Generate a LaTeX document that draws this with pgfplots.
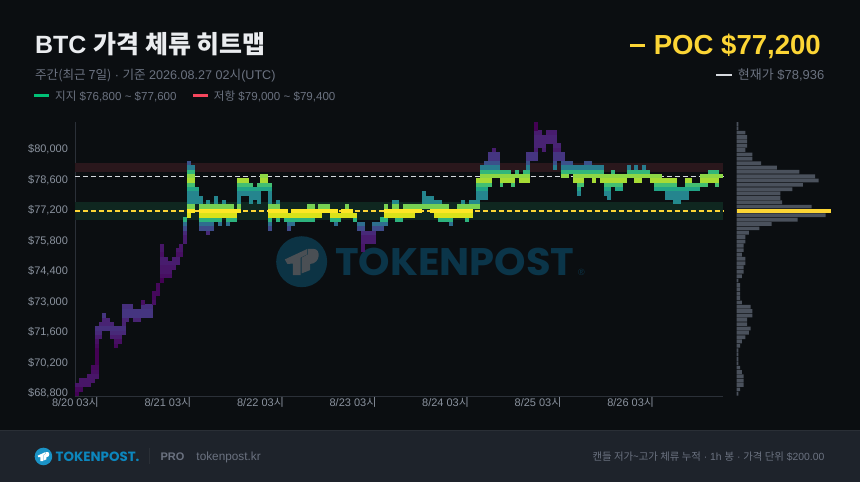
\documentclass[border=0pt]{standalone}
\usepackage{fontspec}
\usepackage{pgfplots}
\usepackage{pgfplotstable}
\pgfplotsset{compat=1.18}
\setmainfont{Liberation Sans}
\newfontfamily\kr{Noto Sans CJK KR}
\newfontfamily\pop{Poppins}
\newcommand\fs[1]{\fontsize{#1}{#1}\selectfont}
\definecolor{bg}{HTML}{0B0E11}
\definecolor{foot}{HTML}{1E232B}
\definecolor{footline}{HTML}{2A2F36}
\definecolor{title}{HTML}{EAECEF}
\definecolor{muted}{HTML}{6B7280}
\definecolor{tick}{HTML}{8A929E}
\definecolor{axisline}{HTML}{2B3038}
\definecolor{poc}{HTML}{FCD535}
\definecolor{cur}{HTML}{D6D9DE}
\definecolor{sup}{HTML}{00C076}
\definecolor{res}{HTML}{F6465D}
\definecolor{supband}{HTML}{0F2720}
\definecolor{resband}{HTML}{2A171C}
\definecolor{wmcircle}{HTML}{0C3344}
\definecolor{wmtext}{HTML}{0B3549}
\definecolor{wmlogo}{HTML}{4A4F54}
\definecolor{tpblue}{HTML}{0C86BD}
\definecolor{tpcirc}{HTML}{1B93C6}
\definecolor{prof}{HTML}{4A515C}

% Volume profile: time spent at each $200 price level (candle count)
\pgfplotstableread{
price count
81200 1
81000 1
80800 5
80600 6
80400 6
80200 6
80000 5
79800 9
79600 9
79400 14
79200 23
79000 36
78800 45
78600 47
78400 38
78200 32
78000 25
77800 25
77600 26
77400 43
77200 54
77000 51
76800 35
76600 20
76400 13
76200 7
76000 5
75800 5
75600 4
75400 4
75200 3
75000 5
74800 5
74600 4
74400 4
74200 3
74000 1
73800 2
73600 2
73400 2
73200 2
73000 3
72800 8
72600 9
72400 9
72200 6
72000 6
71800 8
71600 7
71400 5
71200 3
71000 2
70800 1
70600 1
70400 1
70200 1
70000 2
69800 3
69600 4
69400 4
69200 4
69000 2
68800 1
}\profile

% Hourly candles: hour index, low, high
\pgfplotstableread{
h low high
0 68800 69200
1 69000 69400
2 69200 69400
3 69200 69600
4 69400 70000
5 69600 71800
6 71400 72000
7 71800 72400
8 71800 72200
9 71400 72000
10 71000 71800
11 71200 71800
12 71600 72800
13 72200 72800
14 72400 72800
15 72200 72600
16 72200 72600
17 72400 73000
18 72400 72800
19 72400 72800
20 73000 73400
21 73400 73800
22 74000 75600
23 74200 75000
24 74200 74800
25 74600 75000
26 74800 75400
27 75200 75600
28 75800 76800
29 77000 79400
30 77200 79200
31 77600 78200
32 76400 77800
33 76400 77400
34 76200 77600
35 76400 77400
36 76800 77800
37 76600 77400
38 77000 77600
39 76600 77400
40 76800 77400
41 76800 77200
42 77200 78600
43 78000 78600
44 78000 78600
45 77600 78400
46 77800 78200
47 77600 78400
48 78200 78800
49 78200 78800
50 76400 78400
51 77000 77400
52 76800 77600
53 77000 77200
54 76800 77200
55 76400 77000
56 76600 77200
57 76800 77200
58 76800 77200
59 76800 77200
60 76800 77400
61 76800 77400
62 77000 77200
63 77000 77400
64 77200 77400
65 77200 77400
66 76800 77200
67 76600 77200
68 76800 77000
69 77000 77200
70 77000 77400
71 77000 77200
72 76800 77000
73 76400 76600
74 75400 76600
75 75800 76200
76 75800 76200
77 75800 76600
78 76400 76600
79 76400 76800
80 76600 77400
81 77000 77200
82 77000 77600
83 76800 77600
84 76800 77200
85 77000 77400
86 77000 77400
87 77000 77400
88 77200 77400
89 77200 77400
90 77400 78000
91 77400 77800
92 77200 77800
93 77000 77600
94 76800 77600
95 76800 77400
96 76800 77400
97 76600 77200
98 77000 77200
99 77000 77400
100 77000 77600
101 76800 77400
102 77000 77600
103 77400 77600
104 77400 78600
105 77800 79200
106 77800 79400
107 78400 79800
108 78800 80000
109 78800 79800
110 78400 79000
111 78600 79000
112 78600 79000
113 78400 78800
114 78800 79000
115 78600 78800
116 78600 79000
117 78600 79800
118 79600 79800
119 79600 81200
120 80200 80800
121 80000 80600
122 80400 80800
123 80400 80800
124 79200 80800
125 79600 80200
126 78800 79800
127 78800 79400
128 79000 79400
129 78600 79200
130 78000 79200
131 78400 79200
132 78800 79400
133 78800 79400
134 78600 79200
135 78800 79200
136 78600 79200
137 78000 78800
138 77800 78800
139 78400 79000
140 78200 78800
141 78200 78800
142 78600 78800
143 78800 79200
144 78800 79000
145 78600 79200
146 78600 79000
147 78800 79200
148 78800 79000
149 78600 78800
150 78200 78800
151 78200 78800
152 78200 78600
153 77800 78600
154 77800 78600
155 77600 78600
156 77600 78200
157 77800 78200
158 77800 78600
159 78200 78600
160 78200 78400
161 78200 78400
162 78400 78800
163 78400 78800
164 78600 79000
165 78600 79000
166 78400 79000
167 78800 78800
}\candles

% Turn the two tables into the heat cells: one (hour, price) [count] per level a candle touched
\newcount\rr
\pgfplotstablegetrowsof{\profile}\edef\nprof{\pgfplotsretval}
\rr=0
\loop\ifnum\rr<\nprof
  \pgfplotstablegetelem{\the\rr}{price}\of\profile\edef\pr{\pgfplotsretval}
  \pgfplotstablegetelem{\the\rr}{count}\of\profile
  \expandafter\xdef\csname cnt\pr\endcsname{\pgfplotsretval}
  \advance\rr by 1
\repeat
\gdef\cells{}
\def\addcells#1#2#3{\ifnum#2>#3 \else
  \xdef\cells{\cells(#1.5,#2)[\csname cnt#2\endcsname]\space}%
  \edef\next{\noexpand\addcells{#1}{\the\numexpr#2+200\relax}{#3}}\expandafter\next\fi}
\pgfplotstablegetrowsof{\candles}\edef\ncand{\pgfplotsretval}
\rr=0
\loop\ifnum\rr<\ncand
  \pgfplotstablegetelem{\the\rr}{h}\of\candles\edef\hh{\pgfplotsretval}
  \pgfplotstablegetelem{\the\rr}{low}\of\candles\edef\lo{\pgfplotsretval}
  \pgfplotstablegetelem{\the\rr}{high}\of\candles\edef\hi{\pgfplotsretval}
  \edef\tmp{\noexpand\addcells{\hh}{\lo}{\hi}}\tmp
  \advance\rr by 1
\repeat

\pgfdeclareplotmark{cell}{%
  \pgfpathrectangle{\pgfpoint{-1.97pt}{-2.22pt}}{\pgfpoint{3.94pt}{4.44pt}}\pgfusepathqfill}

% TokenPost logo glyph, unit radius, y downward
\newcommand\tpglyph[3]{% center, radius, colour
  \begin{scope}[shift={#1},x=#2pt,y=-#2pt]
    \fill[#3] (-0.66,-0.09)--(0.22,-0.50)--(0.22,-0.29)--(-0.04,-0.16)--(-0.04,0.53)--(-0.34,0.53)--(-0.34,0.07)--(-0.56,0.09)--cycle;
    \fill[#3] (0.25,-0.50)--(0.49,-0.50) .. controls (0.75,-0.50) and (0.75,0.07) .. (0.33,0.09)--(0.33,0.33)--(0,0.46)--(0,-0.16)--(0.25,-0.29)--cycle;
  \end{scope}}

\begin{document}
\begin{tikzpicture}
\begin{scope}[x=1pt,y=-1pt]
  % page
  \fill[bg] (0,0) rectangle (860,483);
  \fill[foot] (0,430) rectangle (860,483);
  \draw[footline,line width=1pt] (0,430.5)--(860,430.5);
  % watermark
  \fill[wmcircle] (301.5,262) circle[radius=25.5];
  \tpglyph{(301.5pt,-262pt)}{25.5}{wmlogo}
  \node[anchor=base west,inner sep=0pt,text=wmtext,xscale=1.04] at (335,275.5) {\pop\fs{38.5}\textbf{TOKENPOST}};
  \node[anchor=base west,inner sep=0pt,text=wmtext] at (578,276) {\fs{9}®};
  % header
  \node[anchor=base west,inner sep=0pt,text=title] at (34.5,53.5) {\fs{25}\bfseries BTC {\kr\bfseries 가격 체류 히트맵}};
  \node[anchor=base west,inner sep=0pt,text=muted] at (34.5,79.5) {\fs{12.6}{\kr 주간(최근 7일)} · {\kr 기준} 2026.08.27 02{\kr 시}(UTC)};
  \fill[sup] (34,94.3) rectangle (49,97);
  \node[anchor=base west,inner sep=0pt,text=muted] at (54.5,100.3) {\fs{11.6}{\kr 지지} \$76,800 \textasciitilde{} \$77,600};
  \fill[res] (193,94.3) rectangle (208,97);
  \node[anchor=base west,inner sep=0pt,text=muted] at (213.5,100.3) {\fs{11.6}{\kr 저항} \$79,000 \textasciitilde{} \$79,400};
  \fill[poc] (630,44.3) rectangle (645,46.8);
  \node[anchor=base east,inner sep=0pt,text=poc] at (821.5,54.5) {\fs{27.6}\bfseries POC \$77,200};
  \fill[cur] (716,74) rectangle (732,76);
  \node[anchor=base east,inner sep=0pt,text=muted] at (825,79.5) {\fs{13}{\kr 현재가} \$78,936};
  % footer
  \fill[tpcirc] (43,457) circle[radius=8.8];
  \tpglyph{(43pt,-457pt)}{8.8}{white}
  \node[anchor=base west,inner sep=0pt,text=tpblue] at (55,462) {\pop\fs{13.4}\textbf{TOKENPOST.}};
  \draw[footline,line width=0.8pt] (149.5,449)--(149.5,465);
  \node[anchor=base west,inner sep=0pt,text=muted] at (160,461.5) {\fs{11}\bfseries PRO};
  \node[anchor=base west,inner sep=0pt,text=muted] at (196,461.5) {\fs{11.8}tokenpost.kr};
  \node[anchor=base east,inner sep=0pt,text=muted] at (825,461) {\fs{10.4}{\kr 캔들 저가\textasciitilde 고가 체류 누적} · 1h {\kr 봉} · {\kr 가격 단위} \$200.00};
\end{scope}

% heat map
\begin{axis}[
  at={(75pt,-396.5pt)},anchor=south west,
  scale only axis,width=648.5pt,height=274.6pt,
  xmin=0,xmax=168,ymin=68694,ymax=81300,
  axis lines=left,axis line style={-,axisline,line width=0.8pt},
  major tick length=0pt,
  scaled y ticks=false,
  xtick={0,24,48,72,96,120,144},
  xticklabels={8/20 03{\kr 시},8/21 03{\kr 시},8/22 03{\kr 시},8/23 03{\kr 시},8/24 03{\kr 시},8/25 03{\kr 시},8/26 03{\kr 시}},
  ytick={68800,70200,71600,73000,74400,75800,77200,78600,80000},
  yticklabels={{\$68,800},{\$70,200},{\$71,600},{\$73,000},{\$74,400},{\$75,800},{\$77,200},{\$78,600},{\$80,000}},
  xticklabel style={text=tick,font=\fs{11},yshift=2pt},
  yticklabel style={text=tick,font=\fs{11},xshift=-4pt,yshift=0.5pt},
  colormap/viridis,point meta min=1,point meta max=54,
  clip=false,
  cellstyle/.style={scatter,only marks,mark=cell,point meta=explicit,
    scatter/use mapped color={fill=mapped color,draw=none}},
]
  \addplot[draw=none,fill=supband,forget plot] coordinates {(0,76800)(168,76800)(168,77600)(0,77600)} --cycle;
  \addplot[draw=none,fill=resband,forget plot] coordinates {(0,79000)(168,79000)(168,79400)(0,79400)} --cycle;
  \edef\plotcells{\noexpand\addplot[cellstyle] coordinates {\cells};}
  \plotcells
  \addplot[cur,line width=1.3pt,dash pattern=on 5pt off 3pt] coordinates {(0,78800)(168,78800)};
  \addplot[poc,line width=1.3pt,dash pattern=on 5pt off 3pt] coordinates {(0,77200)(168,77200)};
\end{axis}

% profile
\begin{axis}[
  at={(737pt,-396.5pt)},anchor=south west,
  scale only axis,width=94.3pt,height=274.6pt,
  xmin=0,xmax=54,ymin=68694,ymax=81300,
  axis lines=none,clip=false,
]
  \addplot[xbar,bar width=3.7pt,bar shift=0pt,fill=prof,draw=none] table[x=count,y=price] {\profile};
  \addplot[xbar,bar width=4.4pt,bar shift=0pt,fill=poc,draw=none] coordinates {(54,77200)};
\end{axis}
\end{tikzpicture}
\end{document}
